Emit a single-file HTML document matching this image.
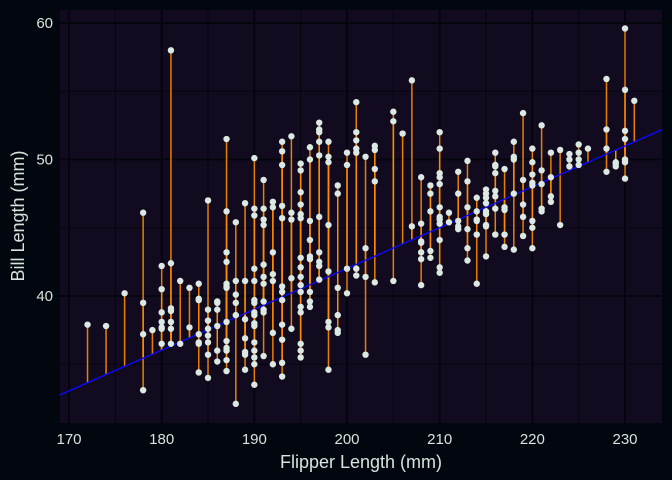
<!DOCTYPE html>
<html><head><meta charset="utf-8"><style>
html,body{margin:0;padding:0;background:#02060f;}
svg{display:block;font-family:"Liberation Sans",sans-serif;}
</style></head><body>
<svg id="chart" width="672" height="480">
<rect x="0" y="0" width="672" height="480" fill="#02060f"/>
<rect x="60" y="10" width="602" height="413" fill="#120b20"/>
<g id="grid"></g><g id="segs"></g><g id="fit"></g><g id="pts"></g><g id="axes"></g>
<text x="361" y="468" text-anchor="middle" font-size="18" fill="#d6e4dc">Flipper Length (mm)</text>
<text transform="translate(24,216) rotate(-90)" text-anchor="middle" font-size="18" fill="#d6e4dc">Bill Length (mm)</text>
</svg>
<script>
const flippers = [172,174,176,178,179,180,181,182,183,184,185,186,187,188,189,190,191,192,193,194,195,196,197,198,199,200,201,202,203,205,206,207,208,209,210,211,212,213,214,215,216,217,218,219,220,221,222,223,224,225,226,228,229,230,231];
const bills = [
[37.9],[37.8],[40.2],[46.1,39.5,37.2,33.1],[37.5],
[42.2,40.5,38.8,37.7,38.1,37.6,36.5],
[58.0,42.4,39.1,38.9,38.1,37.6,36.5],
[41.1,36.5],[40.6,37.7],
[40.9,39.8,39.7,37.2,36.6,36.5,34.4],
[47.0,39.0,38.2,37.6,37.1,36.6,35.7,34.0],
[39.6,39.5,39.0,37.8,36.0,35.2],
[51.5,46.2,43.2,42.5,40.9,40.7,40.6,38.1,36.7,36.2,36.0,35.3,34.5],
[45.4,41.1,40.1,39.5,38.6,32.1],
[46.8,41.1,38.3,36.9,35.9,35.7,34.6],
[50.1,46.4,45.9,42.0,41.1,39.7,39.5,38.8,38.6,38.0,37.8,36.6,36.0,35.5,35.0,33.5],
[48.5,46.4,45.6,45.2,42.3,41.4,40.9,39.6,39.0,38.8,35.6],
[46.9,46.5,43.2,41.6,41.1,37.3,35.0],
[51.3,50.6,49.6,46.6,45.7,40.7,40.3,39.7,37.9,36.8,35.1,34.1],
[51.7,46.1,45.6,41.3,37.6],
[49.7,49.2,47.6,46.7,46.0,45.7,42.8,42.1,41.4,40.8,40.3,39.2,38.8,36.5,36.0,35.5],
[50.9,50.0,45.5,44.1,42.9,42.7,40.3,39.6,39.2],
[52.7,52.2,52.0,51.3,50.3,45.8,43.2,42.5,42.2,41.2],
[51.3,50.2,49.8,45.2,41.8,38.1,37.7,34.6],
[48.1,47.5,40.6,38.6,37.5,37.3],
[50.5,49.6,42.0,40.2],
[54.2,52.0,51.4,50.8,50.5,42.0,41.5],
[50.2,43.5,41.4,35.7],
[51.0,50.7,49.3,48.4,41.0],
[53.5,52.8,41.1],[51.9],[55.8,45.1],
[48.7,45.3,44.0,43.9,43.2,42.7,40.8],
[48.1,47.5,46.2,43.3,42.8],
[52.0,50.8,49.0,48.7,48.2,46.5,45.8,45.6,45.3,44.1,42.1,41.7],
[46.1,45.4],
[49.1,47.5,45.5,45.1,44.9],
[49.9,48.4,46.5,44.9,43.5,42.6],
[47.2,46.2,45.6,45.5,44.5,40.9],
[47.8,47.5,47.2,46.8,46.2,46.0,45.2,45.1,42.9],
[50.5,49.6,49.5,49.0,47.7,47.3,46.4,44.5],
[49.3,46.5,46.3,44.5,43.6],
[51.3,50.2,50.0,47.5,43.4],
[53.4,48.5,46.7,45.8,44.4],
[50.8,49.8,48.9,48.3,48.1,45.5,45.0,43.5],
[52.5,49.2,48.2,46.4,46.2],
[50.5,48.7,47.3,46.9],
[50.7,45.2],[50.4,50.0,49.5],[51.1,50.5,50.0,49.6],[50.8],
[55.9,52.2,50.8,49.1],[49.8,49.7,49.5],
[59.6,55.1,52.1,51.5,50.0,49.9,49.8,48.6],
[54.3]
];
const xTicks = [170,180,190,200,210,220,230];
const yTicks = [40,50,60];
const fitIntercept = 32.75, fitSlope = 0.299, fitX0 = 169;

const NS="http://www.w3.org/2000/svg";
const X = v => 69 + (v-170)*9.267;
const Y = v => 296 - (v-40)*13.65;
const fit = f => fitIntercept + fitSlope*(f-fitX0);
function mk(tag, attrs, parent){const e=document.createElementNS(NS,tag);for(const k in attrs)e.setAttribute(k,attrs[k]);parent.appendChild(e);return e;}
const grid=document.getElementById('grid'), axes=document.getElementById('axes');
for(let v=165; v<=235; v+=5){const px=X(v); if(px<60||px>662) continue;
  const l=mk('line',{x1:px,x2:px,y1:10,y2:423,stroke:'#05050d','stroke-width':v%10===0?2:1},grid);
  
  }
for(let v=30; v<=65; v+=5){const py=Y(v); if(py<10||py>423) continue;
  const l=mk('line',{x1:60,x2:662,y1:py,y2:py,stroke:'#05050d','stroke-width':v%10===0?2:1},grid);
  
  }
xTicks.forEach(v=>{const t=mk('text',{x:X(v),y:444,'text-anchor':'middle','font-size':15,fill:'#d6e4dc'},axes);t.textContent=v;
  
  });
yTicks.forEach(v=>{const t=mk('text',{x:53,y:Y(v)+5,'text-anchor':'end','font-size':15,fill:'#d6e4dc'},axes);t.textContent=v;
  
  });
const segs=document.getElementById('segs'), pts=document.getElementById('pts');
flippers.forEach((f,i)=>{bills[i].forEach(b=>{
  const s=mk('line',{x1:X(f),x2:X(f),y1:Y(b),y2:Y(fit(f)),stroke:'#ff8c00','stroke-opacity':0.9,'stroke-width':1.5},segs);
  
  
  const c=mk('circle',{cx:X(f),cy:Y(b),r:3.2,fill:'#dce9e3'},pts);
  
  
});});
const fx0=fitX0, fx1=234;
const fl=mk('line',{x1:X(fx0),y1:Y(fit(fx0)),x2:X(fx1),y2:Y(fit(fx1)),stroke:'#0a0aff','stroke-width':1.4},document.getElementById('fit'));


</script>
</body></html>
